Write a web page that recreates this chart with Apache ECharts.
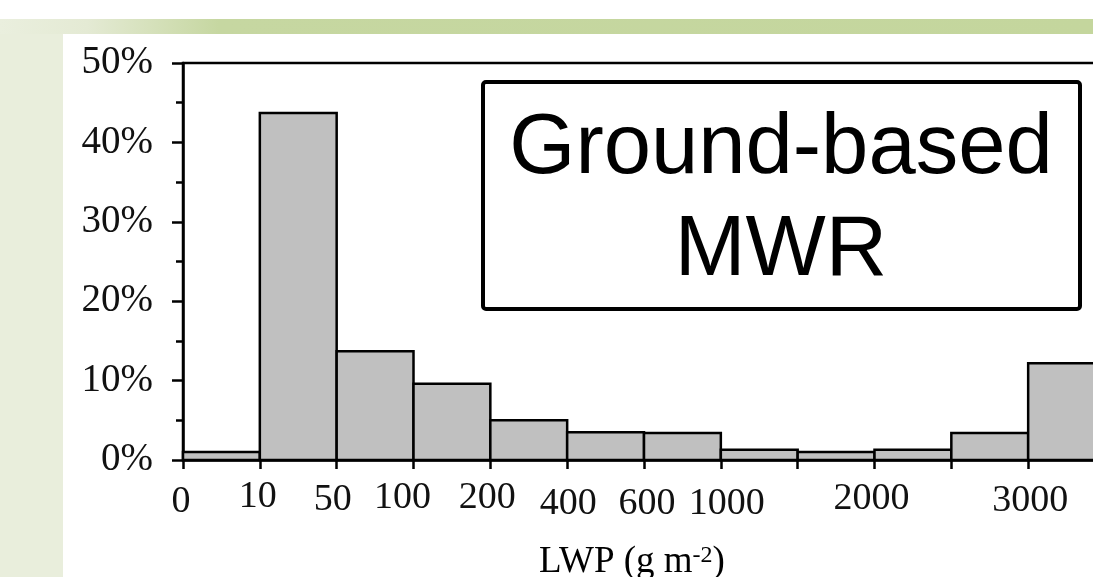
<!DOCTYPE html>
<html><head><meta charset="utf-8">
<script src="https://cdn.jsdelivr.net/npm/echarts@6/dist/echarts.min.js"></script>
<style>html,body{margin:0;padding:0;background:#fff;overflow:hidden}#c{width:1093px;height:577px}</style>
</head><body><div id="c"></div>
<script>
// LWP bins (g m-2) and their frequency (%)
const binNames = ['0-10','10-50','50-100','100-200','200-400','400-600','600-1000','1000-1500','1500-2000','2000-2500','2500-3000','>3000'];
const binValues = [1.0, 43.7, 13.7, 9.6, 5.0, 3.5, 3.4, 1.3, 1.0, 1.3, 3.4, 12.2];
// labels at bin edges
const tickLabels = ['0','10','50','100','200','400','600','1000','','2000','','3000'];
const yTickValues = [0, 10, 20, 30, 40, 50];
const boxText = ['Ground-based', 'MWR'];
const axisTitle = 'LWP (g m{sup|-2})';

// small hand nudges of the edge labels as in the original figure [dx, dy]
const labelNudge = [[-2,5],[-2,0],[-4,3],[-11,1],[-3,1],[1,7],[3,7],[6,7],[0,0],[-3,2],[0,0],[2,4]];

const chart = echarts.init(document.getElementById('c'));
const serif = 'Liberation Serif';
chart.setOption({
  backgroundColor: '#ffffff',
  animation: false,
  grid: {left: 183, top: 63, right: -12, bottom: 117, outerBoundsMode: 'none', containLabel: false,
    show: true, borderColor: '#000', borderWidth: 2.5, backgroundColor: 'transparent'},
  xAxis: {
    type: 'value', min: 0, max: binValues.length, interval: 1,
    axisLine: {show: true, lineStyle: {color: '#000', width: 2.5}},
    axisTick: {show: true, length: 9, lineStyle: {color: '#000', width: 2.5}},
    axisLabel: {show: false},
    splitLine: {show: false},
    name: axisTitle, nameLocation: 'middle', nameGap: 84,
    nameTextStyle: {fontFamily: serif, fontSize: 37, color: '#000', padding: [0, 24, 0, 0],
      rich: {sup: {fontFamily: serif, fontSize: 24, color: '#000', verticalAlign: 'top', lineHeight: 24}}}
  },
  yAxis: {
    type: 'value', min: yTickValues[0], max: yTickValues[yTickValues.length - 1], interval: 10,
    axisLine: {show: true, lineStyle: {color: '#000', width: 2.5}},
    axisTick: {show: true, length: 11, lineStyle: {color: '#000', width: 2.5}},
    minorTick: {show: true, splitNumber: 2, length: 7, lineStyle: {color: '#000', width: 2.5}},
    splitLine: {show: false},
    axisLabel: {fontFamily: serif, fontSize: 39, color: '#111', margin: 30, formatter: '{value}%'}
  },
  graphic: [
    {type: 'rect', z: -5, shape: {x: 0, y: 19, width: 63, height: 558}, style: {fill: '#e9eedc'}},
    {type: 'rect', z: -5, shape: {x: 0, y: 19, width: 1093, height: 15},
      style: {fill: new echarts.graphic.LinearGradient(0, 0, 1, 0, [
        {offset: 0, color: '#eaefde'}, {offset: 0.08, color: '#e4ead4'}, {offset: 0.2, color: '#c6d7a1'}, {offset: 1, color: '#c4d69d'}])}},
    {type: 'group', z: 100, children: [
      {type: 'rect', shape: {x: 483, y: 82, width: 597, height: 227, r: 3}, style: {fill: '#fff', stroke: '#000', lineWidth: 4}},
      {type: 'text', x: 781, y: 201, style: {text: boxText.join('\n'), fontFamily: 'Liberation Sans', fontSize: 85, lineHeight: 102, align: 'center', verticalAlign: 'middle', fill: '#000'}}
    ]}
  ],
  series: [
    {
      type: 'custom', name: 'LWP frequency', clip: false,
      data: binValues.map((v, i) => [i, v]),
      encode: {x: 0, y: 1},
      renderItem: function (params, api) {
        const i = api.value(0), v = api.value(1);
        const p0 = api.coord([i, v]);
        const p1 = api.coord([i + 1, 0]);
        return {type: 'rect', shape: {x: p0[0], y: p0[1], width: p1[0] - p0[0], height: p1[1] - p0[1]},
          style: {fill: '#c0c0c0', stroke: '#000', lineWidth: 2.5}};
      }
    },
    {
      type: 'custom', name: 'edge labels', clip: false, silent: true, z: 5,
      data: tickLabels.map((t, i) => [i, 0]),
      encode: {x: 0, y: 1},
      renderItem: function (params, api) {
        const idx = params.dataIndex;
        const t = tickLabels[idx];
        if (!t) return null;
        const p = api.coord([api.value(0), 0]);
        const n = labelNudge[idx];
        return {type: 'text', x: p[0] + n[0], y: p[1] + 18 + n[1],
          style: {text: t, fontFamily: serif, fontSize: 38, fill: '#111', align: 'center', verticalAlign: 'top'}};
      }
    }
  ]
});
</script></body></html>
